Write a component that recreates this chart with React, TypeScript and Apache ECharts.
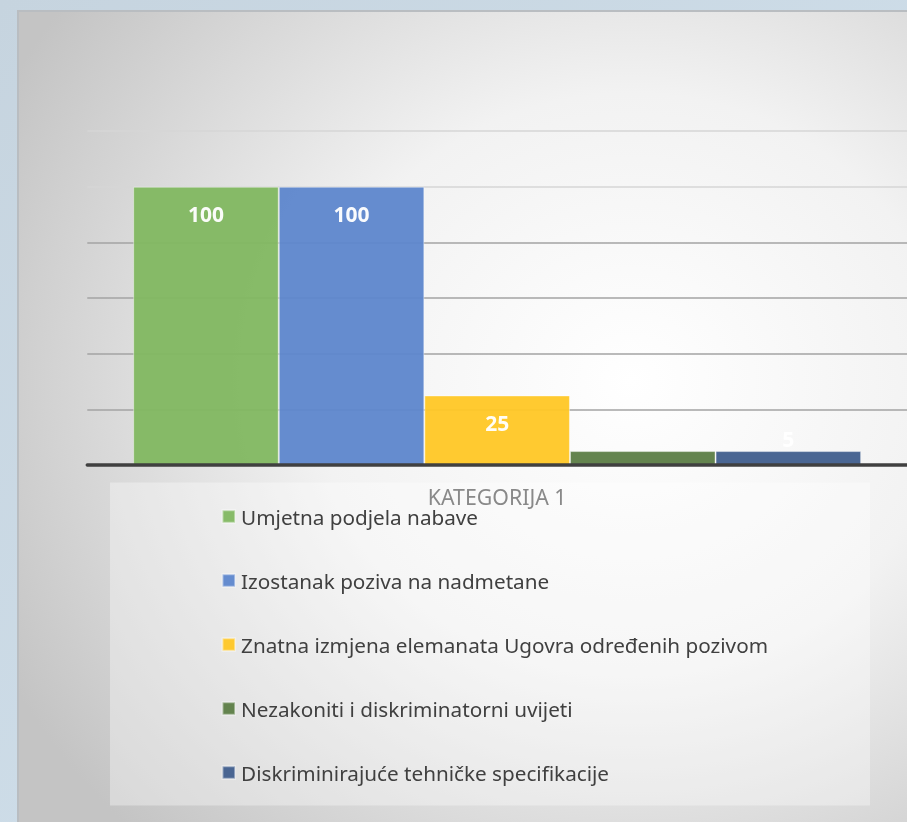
import React, { useEffect, useRef } from "react";
import * as echarts from "echarts";

const categories = ["KATEGORIJA 1"];
const seriesNames = [
  "Umjetna podjela nabave",
  "Izostanak poziva na nadmetane",
  "Znatna izmjena elemanata Ugovra određenih pozivom",
  "Nezakoniti i diskriminatorni uvijeti",
  "Diskriminirajuće tehničke specifikacije",
];
const seriesValues = [100, 100, 25, 5, 5];
const showLabel = [true, true, true, false, true];
const seriesColors = ["#82b862", "#5f87cd", "#ffc828", "#5e7f48", "#43608f"];
const yTicks = { min: 0, max: 120, interval: 20 };

export default function App() {
  const ref = useRef<HTMLDivElement>(null);
  useEffect(() => {
    if (!ref.current) return;
    const chart = echarts.init(ref.current, undefined, { renderer: "svg" });
    const font = "'Noto Sans', sans-serif";
    const series = seriesNames.map((name, i) => {
      const v = seriesValues[i];
      const small = v < 10;
      return {
        name,
        type: "bar",
        barWidth: 145.6,
        barGap: "0%",
        z: 2,
        itemStyle: {
          color: seriesColors[i],
          borderColor: "rgba(255,255,255,0.45)",
          borderWidth: 1,
          opacity: 0.96,
        },
        label: {
          show: showLabel[i],
          position: small ? "top" : "insideTop",
          distance: small ? 2 : 17,
          color: "#ffffff",
          fontSize: 21,
          fontWeight: "bold",
          fontFamily: font,
          lineHeight: 21,
        },
        data: [v],
      };
    });
    chart.setOption({
      animation: false,
      textStyle: { fontFamily: font },
      graphic: [
        {
          type: "rect",
          z: -100,
          silent: true,
          shape: { x: 0, y: 0, width: 907, height: 822 },
          style: {
            fill: new echarts.graphic.LinearGradient(0, 0, 1, 1, [
              { offset: 0, color: "#c6d4df" },
              { offset: 1, color: "#d3e3ef" },
            ]),
          },
        },
        {
          type: "rect",
          z: -99,
          silent: true,
          shape: { x: 17, y: 10, width: 900, height: 820 },
          style: { fill: "#b9bdc1" },
        },
        {
          type: "rect",
          z: -98,
          silent: true,
          shape: { x: 19, y: 12, width: 900, height: 820 },
          style: {
            fill: new echarts.graphic.RadialGradient(0.68, 0.45, 0.78, [
              { offset: 0, color: "#ffffff" },
              { offset: 0.45, color: "#f2f2f2" },
              { offset: 1, color: "#c4c4c4" },
            ]),
          },
        },
        {
          type: "rect",
          z: -97,
          silent: true,
          shape: { x: 110, y: 482.5, width: 760, height: 323 },
          style: { fill: "rgba(255,255,255,0.34)" },
        },
      ],
      grid: { left: 87.3, right: -2.3, top: 131, bottom: 357, containLabel: false },
      xAxis: {
        type: "category",
        data: categories,
        axisLine: { show: true, lineStyle: { color: "#404040", width: 3.5 } },
        axisTick: { show: false },
        axisLabel: { color: "#898989", fontSize: 21.3, margin: 21, fontFamily: font },
        z: 5,
      },
      yAxis: {
        type: "value",
        min: yTicks.min,
        max: yTicks.max,
        interval: yTicks.interval,
        axisLabel: { show: false },
        axisLine: { show: false },
        axisTick: { show: false },
        splitLine: {
          show: true,
          lineStyle: {
            width: 1.5,
            color: ["#a3a3a3", "#a3a3a3", "#a3a3a3", "#a3a3a3", "#a3a3a3", "#d6d6d6", "#d6d6d6"],
          },
        },
      },
      legend: {
        orient: "vertical",
        left: 216.5,
        top: 500.5,
        itemWidth: 12.6,
        itemHeight: 12.4,
        itemGap: 42,
        icon: "rect",
        textStyle: { color: "#404040", fontSize: 20.7, fontFamily: font, padding: [0, 0, 0, 1], lineHeight: 22 },
        data: seriesNames,
      },
      series,
    });
    return () => chart.dispose();
  }, []);
  return (
    <div
      ref={ref}
      style={{ position: "fixed", left: 0, top: 0, width: 907, height: 822 }}
    />
  );
}
